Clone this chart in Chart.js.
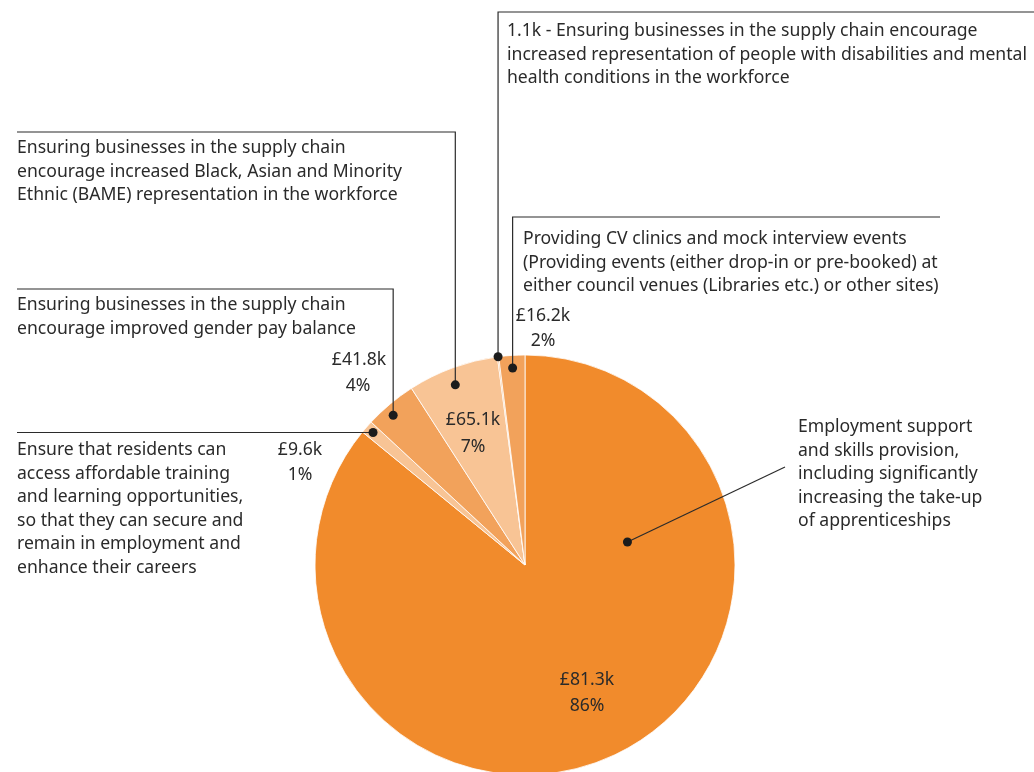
<!DOCTYPE html>
<html>
<head>
<meta charset="utf-8">
<script src="https://cdn.jsdelivr.net/npm/chart.js@4/dist/chart.umd.min.js"></script>
<style>
  html, body { margin: 0; padding: 0; background: #fff; }
  #wrap { width: 1034px; height: 772px; }
</style>
</head>
<body>
<div id="wrap"><canvas id="graficoPie" width="1034" height="772"></canvas></div>
<script>
// Categories, in drawing order (clockwise from 12 o'clock)
const categories = [
  ["Employment support", "and skills provision,", "including significantly", "increasing the take-up", "of apprenticeships"],
  ["Ensure that residents can", "access affordable training", "and learning opportunities,", "so that they can secure and", "remain in employment and", "enhance their careers"],
  ["Ensuring businesses in the supply chain", "encourage improved gender pay balance"],
  ["Ensuring businesses in the supply chain", "encourage increased Black, Asian and Minority", "Ethnic (BAME) representation in the workforce"],
  ["Ensuring businesses in the supply chain encourage", "increased representation of people with disabilities and mental", "health conditions in the workforce"],
  ["Providing CV clinics and mock interview events", "(Providing events (either drop-in or pre-booked) at", "either council venues (Libraries etc.) or other sites)"]
];
const amounts = ["£81.3k", "£9.6k", "£41.8k", "£65.1k", "1.1k", "£16.2k"];
const shares = [86, 1, 4, 7, 0.1, 2];

const colors = ["#F18B2C", "#F8C495", "#F2A25B", "#F8C495", "#F2A25B", "#F2A25B"];

const FONT = "17.6px 'Noto Sans', sans-serif";
const TEXT = "#2a2a2a";
const LINE_H = 23.6;

// callout layout: where the dot sits in the slice (t along the arc, f of radius),
// the leader path and where each text block goes
const callouts = [
  { t: 0.25, f: 0.5, path: (d) => [[d.x, d.y], [785, 467]],
    text: { x: 798, y: 427 }, amount: { x: 587, y: 680 }, pct: { x: 587, y: 706 } },
  { t: 0.5, f: 0.96, path: (d) => [[d.x, d.y], [17, d.y]],
    text: { x: 17, y: 450 }, amount: { x: 300, y: 450 }, pct: { x: 300, y: 475 } },
  { t: 0.4, f: 0.95, path: (d) => [[d.x, d.y], [d.x, 289], [17, 289]],
    text: { x: 17, y: 305 }, amount: { x: 359, y: 360 }, pct: { x: 358, y: 386 } },
  { t: 0.46, f: 0.92, path: (d) => [[d.x, d.y], [d.x, 132], [17, 132]],
    text: { x: 17, y: 148 }, amount: { x: 473, y: 420 }, pct: { x: 473, y: 447 } },
  { t: 0.5, f: 1.0, path: (d) => [[d.x, d.y], [d.x, 12], [1040, 12]],
    text: { x: 507, y: 31 }, amount: null, pct: null },
  { t: 0.5, f: 0.94, path: (d) => [[d.x, d.y], [d.x, 217], [940, 217]],
    text: { x: 523, y: 239 }, amount: { x: 543, y: 316 }, pct: { x: 543, y: 341 } }
];

const calloutPlugin = {
  id: "callouts",
  afterDraw(chart) {
    const ctx = chart.ctx;
    const arcs = chart.getDatasetMeta(0).data;
    ctx.save();
    ctx.font = FONT;
    ctx.fillStyle = TEXT;
    ctx.textBaseline = "middle";

    arcs.forEach((arc, i) => {
      const c = callouts[i];
      const p = arc.getProps(["x", "y", "startAngle", "endAngle", "outerRadius"], true);
      const ang = p.startAngle + c.t * (p.endAngle - p.startAngle);
      const dot = { x: p.x + Math.cos(ang) * p.outerRadius * c.f, y: p.y + Math.sin(ang) * p.outerRadius * c.f };

      // leader line
      const pts = c.path(dot);
      ctx.strokeStyle = "#2b2b2b";
      ctx.lineWidth = 1.2;
      ctx.beginPath();
      pts.forEach((pt, k) => (k ? ctx.lineTo(pt[0], pt[1]) : ctx.moveTo(pt[0], pt[1])));
      ctx.stroke();

      ctx.fillStyle = "#1c1c1c";
      ctx.beginPath();
      ctx.arc(dot.x, dot.y, 4.5, 0, Math.PI * 2);
      ctx.fill();

      // description
      ctx.fillStyle = TEXT;
      ctx.textAlign = "left";
      categories[i].forEach((line, k) => {
        const s = k === 0 && !c.amount ? amounts[i] + " - " + line : line;
        ctx.fillText(s, c.text.x, c.text.y + k * LINE_H);
      });

      // value and percentage
      if (c.amount) {
        ctx.textAlign = "center";
        ctx.fillText(amounts[i], c.amount.x, c.amount.y);
        ctx.fillText(shares[i] + "%", c.pct.x, c.pct.y);
      }
    });
    ctx.restore();
  }
};

new Chart(document.getElementById("graficoPie"), {
  type: "pie",
  data: {
    labels: categories.map((l) => l.join(" ")),
    datasets: [{
      data: shares,
      backgroundColor: colors,
      borderColor: "#ffffff",
      borderWidth: 0.8,
      radius: 210,
      clip: false
    }]
  },
  options: {
    responsive: false,
    animation: false,
    layout: { padding: { top: 358, bottom: 0, left: 315, right: 299 } },
    plugins: {
      legend: { display: false },
      tooltip: { enabled: false }
    }
  },
  plugins: [calloutPlugin]
});
</script>
</body>
</html>
